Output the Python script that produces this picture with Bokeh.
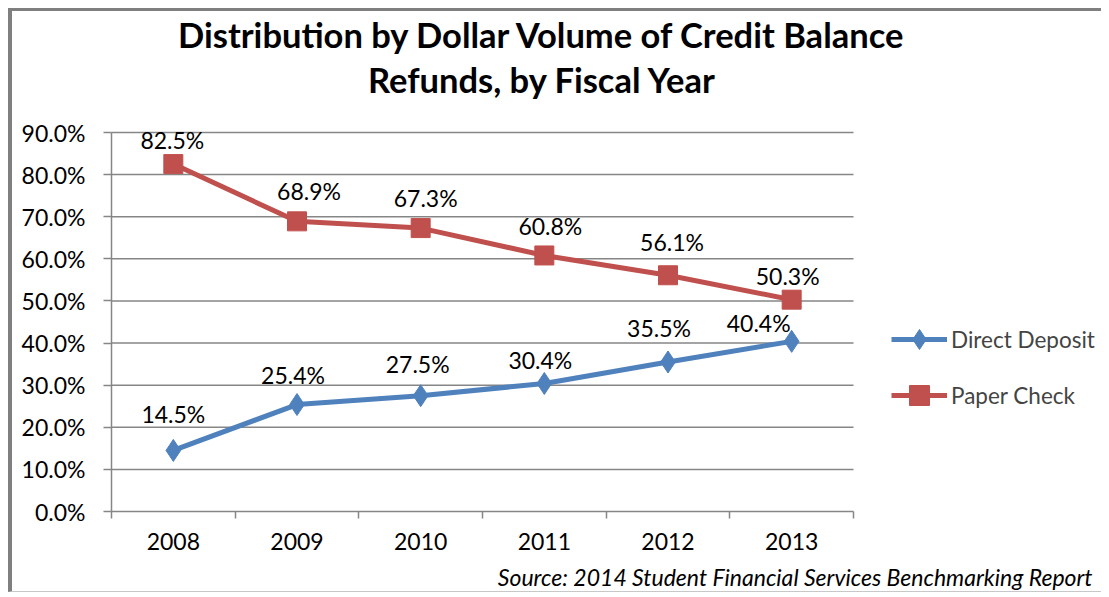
from bokeh.plotting import figure
from bokeh.models import (ColumnDataSource, FixedTicker, PrintfTickFormatter, Range1d,
                          Label, Legend, LegendItem)
from bokeh.core.properties import value
from bokeh.embed import file_html
from bokeh.resources import INLINE

# ---- data ----
years = ["2008", "2009", "2010", "2011", "2012", "2013"]
direct_deposit = [14.5, 25.4, 27.5, 30.4, 35.5, 40.4]
paper_check = [82.5, 68.9, 67.3, 60.8, 56.1, 50.3]
y_ticks = [0, 10, 20, 30, 40, 50, 60, 70, 80, 90]
title_lines = ["Distribution by Dollar Volume of Credit Balance", "Refunds, by Fiscal Year"]
source_note = "Source: 2014 Student Financial Services Benchmarking Report"

# label offsets (styling, px): shift right / raise baseline above point
dd_dx = [0, -4, -3, -4, -9, -33]
dd_dy = [27, 21, 23, 15, 25, 9]
pc_dx = [-1, 12, 5, 6, 4, -4]
pc_dy = [15, 21, 21, 20, 24, 15]

FONT = "Lato"
BLUE = "#4F81BD"
RED = "#C0504D"
GRID = "#868686"
LBL_SIZE = 23
BASE_FIX = 0.39     # renderer places alphabetic baseline ~0.39em low

# ---- layout (canvas pixels) ----
W, H = 1093, 584
PLOT_L, PLOT_R = 99, 841      # plot area left/right
PLOT_T, PLOT_B = 121, 500     # plot area top/bottom
n = len(years)
ymax = y_ticks[-1]
ux = (PLOT_R - PLOT_L) / n
uy = (PLOT_B - PLOT_T) / ymax
x_range = Range1d(-PLOT_L / ux, (W - PLOT_L) / ux)
y_range = Range1d(-(H - PLOT_B) / uy, PLOT_B / uy)

xpos = [i + 0.5 for i in range(n)]
fix = BASE_FIX * LBL_SIZE

dd_src = ColumnDataSource(dict(
    x=xpos, y=direct_deposit, t=["%.1f%%" % v for v in direct_deposit],
    xo=dd_dx, yo=[-(d + fix) for d in dd_dy]))
pc_src = ColumnDataSource(dict(
    x=xpos, y=paper_check, t=["%.1f%%" % v for v in paper_check],
    xo=pc_dx, yo=[-(d + fix) for d in pc_dy]))

p = figure(width=W, height=H, output_backend="svg", toolbar_location=None,
           x_range=x_range, y_range=y_range, min_border=0)
p.styles = {"border-left": "4px solid #7f7f7f", "border-top": "3px solid #7f7f7f",
            "border-bottom": "1px solid #c8c8c8",
            "margin-left": "8px", "margin-top": "8px"}
p.outline_line_color = None
p.background_fill_color = "white"
p.border_fill_color = "white"
p.xgrid.visible = False
p.ygrid.visible = False

# gridlines across the plot area, one per y tick
p.segment(x0=[0] * (len(y_ticks) - 1), x1=[n] * (len(y_ticks) - 1),
          y0=y_ticks[1:], y1=y_ticks[1:], line_color=GRID, line_width=1.5)

# y axis
p.yaxis.fixed_location = 0
p.yaxis.bounds = (0, ymax)
p.yaxis.ticker = FixedTicker(ticks=y_ticks)
p.yaxis.formatter = PrintfTickFormatter(format="%.1f%%")
p.yaxis.axis_line_color = GRID
p.yaxis.axis_line_width = 1.5
p.yaxis.major_tick_line_color = GRID
p.yaxis.major_tick_line_width = 1.5
p.yaxis.major_tick_out = 8
p.yaxis.major_tick_in = 0
p.yaxis.minor_tick_line_color = None
p.yaxis.major_label_text_font = FONT
p.yaxis.major_label_text_font_size = "23px"
p.yaxis.major_label_text_color = "black"
p.yaxis.major_label_standoff = 18

# x axis
p.xaxis.fixed_location = 0
p.xaxis.bounds = (0, n)
p.xaxis.ticker = FixedTicker(ticks=xpos, minor_ticks=list(range(n + 1)))
p.xaxis.major_label_overrides = {xv: yr for xv, yr in zip(xpos, years)}
p.xaxis.axis_line_color = GRID
p.xaxis.axis_line_width = 1.5
p.xaxis.major_tick_line_color = None
p.xaxis.minor_tick_line_color = GRID
p.xaxis.minor_tick_line_width = 1.5
p.xaxis.minor_tick_out = 7
p.xaxis.minor_tick_in = 0
p.xaxis.major_label_text_font = FONT
p.xaxis.major_label_text_font_size = "23px"
p.xaxis.major_label_text_color = "black"
p.xaxis.major_label_standoff = 14

# series
l_dd = p.line("x", "y", source=dd_src, line_color=BLUE, line_width=5)
m_dd = p.scatter("x", "y", source=dd_src, marker="diamond", size=22, fill_color=BLUE, line_color=BLUE)
l_pc = p.line("x", "y", source=pc_src, line_color=RED, line_width=5)
m_pc = p.scatter("x", "y", source=pc_src, marker="square", size=19, fill_color=RED, line_color=RED)

for src in (dd_src, pc_src):
    p.text("x", "y", text="t", source=src, x_offset="xo", y_offset="yo",
           text_align="center", text_baseline="alphabetic",
           text_font=value(FONT), text_font_size="%dpx" % LBL_SIZE, text_color="black")

# title lines (screen units: from canvas left / canvas bottom)
for txt, yb in zip(title_lines, [H - 23, H - 68]):
    p.add_layout(Label(x=530, y=yb, x_units="screen", y_units="screen", text=txt,
                       text_align="center", text_baseline="alphabetic", text_font=FONT,
                       text_font_style="bold", text_font_size="34.5px", text_color="black"))
# source note
p.add_layout(Label(x=1080, y=19, x_units="screen", y_units="screen", text=source_note,
                   text_align="right", text_baseline="alphabetic", text_font=FONT,
                   text_font_style="italic", text_font_size="23px", text_color="black"))

legend = Legend(items=[LegendItem(label="Direct Deposit", renderers=[l_dd, m_dd]),
                       LegendItem(label="Paper Check", renderers=[l_pc, m_pc])],
                location=(879, 175), margin=0, padding=5, spacing=6,
                glyph_width=56, glyph_height=50, label_height=20, label_standoff=4,
                label_text_font=FONT, label_text_font_size="22.5px",
                border_line_color=None, background_fill_alpha=0)
p.add_layout(legend)

open("out.html", "w").write(file_html(p, INLINE))
